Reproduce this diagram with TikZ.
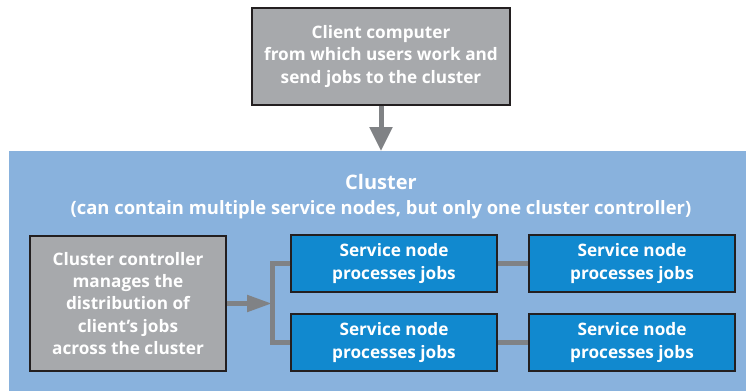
\documentclass[tikz,border=0pt]{standalone}
\usepackage{fontspec}
\setmainfont{Open Sans}
\usetikzlibrary{arrows.meta}

\definecolor{clusterbg}{HTML}{89B2DD}
\definecolor{boxgray}{HTML}{A7A9AC}
\definecolor{svcblue}{HTML}{1189CF}
\definecolor{linkgray}{HTML}{808285}
\definecolor{boxline}{HTML}{231F20}

\begin{document}
\begin{tikzpicture}[x=1pt, y=-1pt,
    box/.style={draw=boxline, line width=1.2pt, align=center, text=white, inner sep=0pt,
        font=\bfseries\fontsize{17.2}{22.3}\selectfont},
    graybox/.style={box, fill=boxgray},
    svcbox/.style={box, fill=svcblue, minimum width=206pt, minimum height=57pt},
    link/.style={draw=linkgray, line width=5pt}]
    \useasboundingbox (0,0) rectangle (746,391) ;
    \node [fill=clusterbg, inner sep=0pt, anchor=north west, minimum width=737pt, minimum height=240pt] (cluster) at (9,151) {} ;
    \node [text=white, font=\bfseries\fontsize{20}{24}\selectfont] (title) at (381,182) {Cluster} ;
    \node [text=white, font=\bfseries\fontsize{18.4}{20}\selectfont] (subtitle) at (381,210) {(can contain multiple service nodes, but only one cluster controller)} ;

    \node [graybox, minimum width=258pt, minimum height=97pt] (client) at (381,56.5) {Client computer\\from which users work and\\send jobs to the cluster} ;
    \node [graybox, minimum width=196pt, minimum height=135pt] (ctrl) at (128,303.5) {Cluster controller\\manages the\\distribution of\\client’s jobs\\across the cluster} ;
    \node [svcbox] (svc1) at (394,263.5) {Service node\\processes jobs} ;
    \node [svcbox] (svc2) at (394,342.5) {Service node\\processes jobs} ;
    \node [svcbox] (svc3) at (632,263.5) {Service node\\processes jobs} ;
    \node [svcbox] (svc4) at (632,342.5) {Service node\\processes jobs} ;
    \coordinate (split) at (272,303.5) ;

    \draw [link, -{Triangle[width=22pt, length=24pt]}] (client.south) -- (cluster.north -| client.south) ;
    \draw [link, -{Triangle[width=16pt, length=25pt]}] (ctrl.east) -- (split) ;
    \draw [link] (svc1.west) -| (split) |- (svc2.west) ;
    \draw [link] (svc1) -- (svc3) ;
    \draw [link] (svc2) -- (svc4) ;
\end{tikzpicture}
\end{document}
